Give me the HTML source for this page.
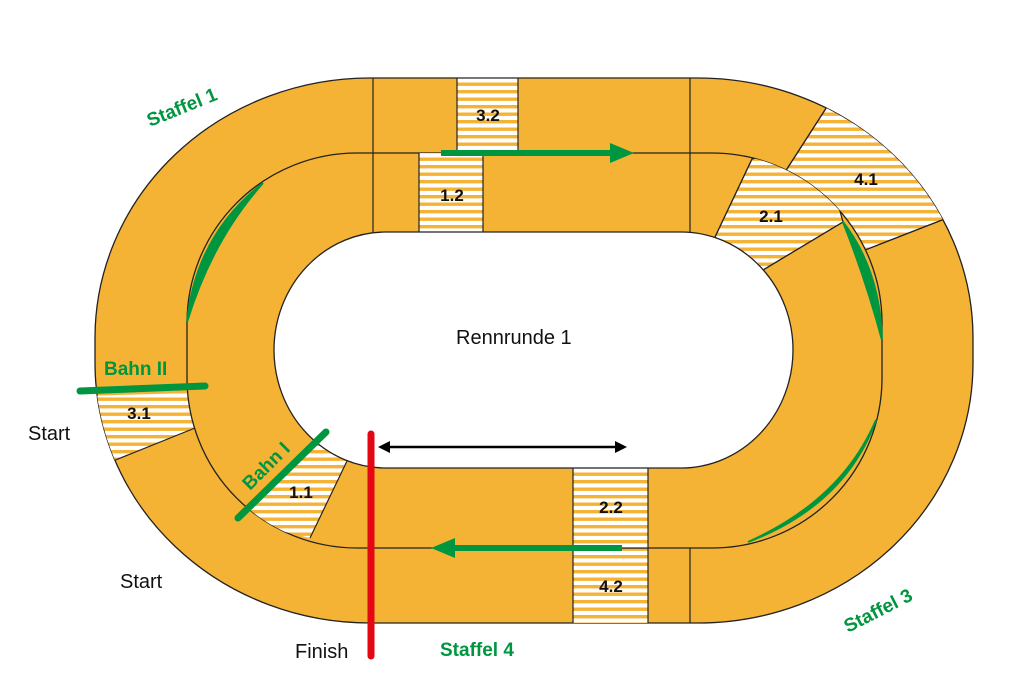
<!DOCTYPE html>
<html><head><meta charset="utf-8"><style>
html,body{margin:0;padding:0;background:#fff;}
svg{display:block;}
text{font-family:"Liberation Sans",sans-serif;}
</style></head><body>
<svg width="1024" height="696" viewBox="0 0 1024 696" xmlns="http://www.w3.org/2000/svg">
<defs>
<pattern id="st" width="8" height="7.5" patternUnits="userSpaceOnUse">
<rect width="8" height="7.5" fill="#fff"/><rect width="8" height="3.4" fill="#F5B335"/>
</pattern>
<clipPath id="co"><rect x="95" y="78" width="878" height="545" rx="275" ry="260"/></clipPath>
<clipPath id="cm"><rect x="187" y="153" width="695" height="395" rx="170" ry="170"/></clipPath>
</defs>
<rect x="95" y="78" width="878" height="545" rx="275" ry="260" fill="#F5B335" stroke="#222" stroke-width="1.3"/>
<g clip-path="url(#co)" stroke="#222" stroke-width="1.2">
<rect x="457" y="78" width="61" height="75" fill="url(#st)"/>
<polygon points="832,99 785,172 843,222 865,250 950,217 1000,200 900,40" fill="url(#st)"/>
<polygon points="80,396 190,393 195,428 108,463 60,480" fill="url(#st)" stroke="none"/>
<line x1="108" y1="463" x2="195" y2="428"/>
<rect x="573" y="548" width="75" height="80" fill="url(#st)"/>
<line x1="373" y1="70" x2="373" y2="232"/>
<line x1="690" y1="70" x2="690" y2="232"/>
<line x1="690" y1="468" x2="690" y2="630"/>
<line x1="865" y1="250" x2="960" y2="213"/>
<line x1="832" y1="99" x2="785" y2="172"/>
</g>
<rect x="187" y="153" width="695" height="395" rx="170" ry="170" fill="#F5B335" stroke="#222" stroke-width="1.3"/>
<g clip-path="url(#cm)" stroke="#222" stroke-width="1.2">
<rect x="419" y="150" width="64" height="84" fill="url(#st)"/>
<polygon points="752,159 715,237 763,270 843,222 820,140" fill="url(#st)"/>
<polygon points="330,430 347,461 310,538 236,520" fill="url(#st)" stroke="none"/>
<line x1="347" y1="461" x2="310" y2="538"/>
<line x1="752" y1="159" x2="715" y2="237"/>
<line x1="763" y1="270" x2="843" y2="222"/>
<rect x="573" y="466" width="75" height="82" fill="url(#st)"/>
<line x1="373" y1="150" x2="373" y2="232"/>
<line x1="690" y1="150" x2="690" y2="232"/>
</g>
<rect x="274" y="232" width="519" height="236" rx="112" ry="118" fill="#fff" stroke="#222" stroke-width="1.3"/>
<!-- green crescents -->
<path d="M263,183 Q196,235 187,322 Q212,240 263,183Z" fill="#009640" stroke="#009640" stroke-width="2"/>
<path d="M843,222 Q880,270 882,340 Q866,280 843,222Z" fill="#009640" stroke="#009640" stroke-width="2"/>
<path d="M876,420 Q845,505 748,542 Q842,500 876,420Z" fill="#009640" stroke="#009640" stroke-width="2"/>
<!-- green lines -->
<line x1="80" y1="391" x2="205" y2="386" stroke="#009640" stroke-width="7" stroke-linecap="round"/>
<line x1="326" y1="432" x2="238" y2="518" stroke="#009640" stroke-width="7" stroke-linecap="round"/>
<line x1="441" y1="153" x2="612" y2="153" stroke="#009640" stroke-width="6"/>
<polygon points="610,143 634,153 610,163" fill="#009640"/>
<line x1="622" y1="548" x2="452" y2="548" stroke="#009640" stroke-width="6"/>
<polygon points="455,538 431,548 455,558" fill="#009640"/>
<!-- black double arrow -->
<line x1="385" y1="447" x2="619" y2="447" stroke="#000" stroke-width="2.5"/>
<polygon points="378,447 390,441 390,453" fill="#000"/>
<polygon points="627,447 615,441 615,453" fill="#000"/>
<!-- red finish line -->
<line x1="371" y1="434" x2="371" y2="656" stroke="#E30613" stroke-width="7" stroke-linecap="round"/>
<!-- labels -->
<g font-weight="bold" font-size="17" fill="#111" text-anchor="middle">
<text x="488" y="121">3.2</text>
<text x="452" y="201">1.2</text>
<text x="866" y="185">4.1</text>
<text x="771" y="222">2.1</text>
<text x="139" y="419">3.1</text>
<text x="301" y="498">1.1</text>
<text x="611" y="513">2.2</text>
<text x="611" y="592">4.2</text>
</g>
<g font-weight="bold" font-size="19" fill="#009640">
<text x="150" y="127" transform="rotate(-22 150 127)">Staffel 1</text>
<text x="848" y="633" transform="rotate(-27 848 633)">Staffel 3</text>
<text x="440" y="656">Staffel 4</text>
<text x="104" y="375">Bahn II</text>
<text x="250" y="491" transform="rotate(-45 250 491)">Bahn I</text>
</g>
<g font-size="20" fill="#111">
<text x="456" y="344">Rennrunde 1</text>
<text x="28" y="440">Start</text>
<text x="120" y="588">Start</text>
<text x="295" y="658">Finish</text>
</g>
</svg>
</body></html>
